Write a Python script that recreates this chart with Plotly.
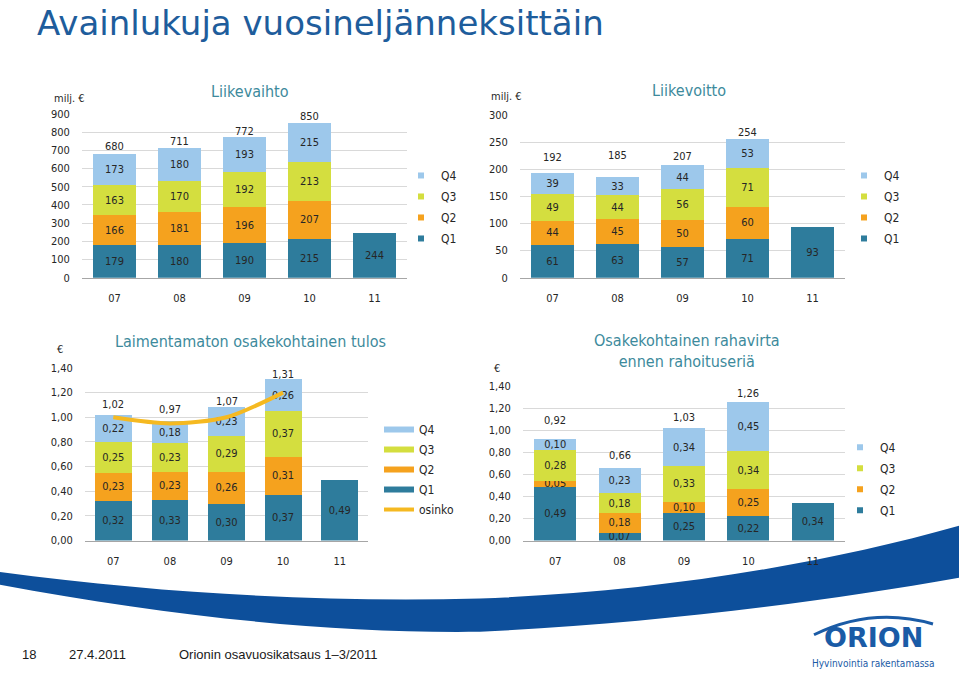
import plotly.graph_objects as go

W, H = 959, 679
def px(x): return x / W
def py(y): return 1 - y / H

years = ['07', '08', '09', '10', '11']
quarters = ['Q1', 'Q2', 'Q3', 'Q4']
colors = {'Q1': '#2E7C9C', 'Q2': '#F5A21E', 'Q3': '#D4DE3F', 'Q4': '#9DC8EB'}

# Liikevaihto (milj. €)
rev_q1 = [179, 180, 190, 215, 244]
rev_q2 = [166, 181, 196, 207, None]
rev_q3 = [163, 170, 192, 213, None]
rev_q4 = [173, 180, 193, 215, None]
rev_total = [680, 711, 772, 850]

# Liikevoitto (milj. €)
op_q1 = [61, 63, 57, 71, 93]
op_q2 = [44, 45, 50, 60, None]
op_q3 = [49, 44, 56, 71, None]
op_q4 = [39, 33, 44, 53, None]
op_total = [192, 185, 207, 254]

# Laimentamaton osakekohtainen tulos (€)
eps_q1 = [0.32, 0.33, 0.30, 0.37, 0.49]
eps_q2 = [0.23, 0.23, 0.26, 0.31, None]
eps_q3 = [0.25, 0.23, 0.29, 0.37, None]
eps_q4 = [0.22, 0.18, 0.23, 0.26, None]
eps_total = [1.02, 0.97, 1.07, 1.31]
dividend = [1.00, 0.95, 1.00, 1.20]

# Osakekohtainen rahavirta ennen rahoituseriä (€)
cf_q1 = [0.49, 0.07, 0.25, 0.22, 0.34]
cf_q2 = [0.05, 0.18, 0.10, 0.25, None]
cf_q3 = [0.28, 0.18, 0.33, 0.34, None]
cf_q4 = [0.10, 0.23, 0.34, 0.45, None]
cf_total = [0.92, 0.66, 1.03, 1.26]

FONT = 'DejaVu Sans Condensed, DejaVu Sans, sans-serif'
TXT = '#262626'
TEAL = '#3D8A9C'

fig = go.Figure()

charts = [
    dict(ax='', leg='legend', data=[rev_q1, rev_q2, rev_q3, rev_q4], fmt='%{y}', line_leg=False),
    dict(ax='2', leg='legend2', data=[op_q1, op_q2, op_q3, op_q4], fmt='%{y}', line_leg=False),
    dict(ax='3', leg='legend3', data=[eps_q1, eps_q2, eps_q3, eps_q4], fmt='%{y:.2f}', line_leg=True),
    dict(ax='4', leg='legend4', data=[cf_q1, cf_q2, cf_q3, cf_q4], fmt='%{y:.2f}', line_leg=False),
]

for ch in charts:
    xa, ya = 'x' + ch['ax'], 'y' + ch['ax']
    for q, vals in zip(quarters, ch['data']):
        fig.add_trace(go.Bar(
            x=years, y=vals, name=q, marker=dict(color=colors[q], line=dict(width=0)),
            texttemplate=ch['fmt'], textposition='inside', insidetextanchor='middle',
            textangle=0, textfont=dict(size=11, color=TXT, family=FONT),
            xaxis=xa, yaxis=ya, showlegend=False, hoverinfo='skip'))
    for q in reversed(quarters):
        if ch['line_leg']:
            fig.add_trace(go.Scatter(x=[None], y=[None], mode='lines', name=q,
                                     line=dict(color=colors[q], width=6),
                                     xaxis=xa, yaxis=ya, legend=ch['leg'], legendgroup=ch['leg'] + q))
        else:
            fig.add_trace(go.Scatter(x=[None], y=[None], mode='markers', name=q,
                                     marker=dict(symbol='square', size=6, color=colors[q]),
                                     xaxis=xa, yaxis=ya, legend=ch['leg'], legendgroup=ch['leg'] + q))

fig.add_trace(go.Scatter(x=years[:4], y=dividend, mode='lines', name='osinko',
                         line=dict(color='#F5B921', width=4, shape='spline', smoothing=0.8),
                         xaxis='x3', yaxis='y3', legend='legend3', legendgroup='osinko',
                         hoverinfo='skip'))

def add_totals(totals, xa, ya, shifts, decimals):
    for i, t in enumerate(totals):
        s = f'{t:.{decimals}f}'.replace('.', ',')
        fig.add_annotation(x=i, y=t, xref=xa, yref=ya, text=s, showarrow=False,
                           yanchor='middle', yshift=shifts[i],
                           font=dict(size=11, color=TXT, family=FONT))

add_totals(rev_total, 'x', 'y', [7, 7, 6, 6], 0)
add_totals(op_total, 'x2', 'y2', [16, 22, 9, 7], 0)
add_totals(eps_total, 'x3', 'y3', [10, 11, 7, 5], 2)
add_totals(cf_total, 'x4', 'y4', [19, 12, 10, 8], 2)

def xaxis(d0, d1, anchor):
    return dict(domain=[px(d0), px(d1)], anchor=anchor, type='category', range=[-0.5, 4.5],
                showline=True, linecolor='#A6A6A6', linewidth=1, showgrid=False,
                ticks='outside', ticklen=10, tickcolor='rgba(0,0,0,0)',
                tickfont=dict(size=11, color=TXT, family=FONT), fixedrange=True)

def yaxis(t0, t1, rng, dtick, fmt, anchor):
    return dict(domain=[py(t1), py(t0)], anchor=anchor, range=rng, dtick=dtick,
                tickformat=fmt, showgrid=True, gridcolor='#D9D9D9', gridwidth=1,
                zeroline=False, showline=False,
                ticks='outside', ticklen=9, tickcolor='rgba(0,0,0,0)',
                tickfont=dict(size=11, color=TXT, family=FONT), fixedrange=True)

fig.update_layout(
    xaxis=xaxis(82, 407, 'y'), yaxis=yaxis(110, 277, [0, 900], 100, 'd', 'x'),
    xaxis2=xaxis(520, 845, 'y2'), yaxis2=yaxis(111, 277, [0, 300], 50, 'd', 'x2'),
    xaxis3=xaxis(85, 368, 'y3'), yaxis3=yaxis(369, 545, [0, 1.4], 0.2, '.2f', 'x3'),
    xaxis4=xaxis(523, 845, 'y4'), yaxis4=yaxis(388, 545, [0, 1.4], 0.2, '.2f', 'x4'),
)

def legend(x, y, gap):
    return dict(x=px(x), y=py(y), xanchor='left', yanchor='top', bgcolor='rgba(0,0,0,0)',
                font=dict(size=12, color=TXT, family=FONT), traceorder='grouped',
                tracegroupgap=gap, itemclick=False, itemdoubleclick=False)

fig.update_layout(
    legend=legend(401, 158, 2), legend2=legend(844, 158, 2),
    legend3=legend(379, 417, 1), legend4=legend(840, 435, 2),
)

ann = [
    dict(text='Liikevaihto', x=250, y=87, size=16, color=TEAL),
    dict(text='Liikevoitto', x=689, y=86, size=16, color=TEAL),
    dict(text='Laimentamaton osakekohtainen tulos', x=250, y=342, size=16, color=TEAL),
    dict(text='Osakekohtainen rahavirta<br>ennen rahoituseriä', x=687, y=352, size=16, color=TEAL),
    dict(text='milj. €', x=69, y=94, size=11, color=TXT),
    dict(text='milj. €', x=506, y=92, size=11, color=TXT),
    dict(text='€', x=60, y=350, size=11, color=TXT),
    dict(text='€', x=497, y=370, size=11, color=TXT),
]
for a in ann:
    fig.add_annotation(text=a['text'], x=px(a['x']), y=py(a['y']), xref='paper', yref='paper',
                       showarrow=False, xanchor='center', yanchor='middle',
                       font=dict(size=a['size'], color=a['color'], family=FONT))

fig.add_annotation(text='Avainlukuja vuosineljänneksittäin', x=px(35), y=py(17), xref='paper',
                   yref='paper', showarrow=False, xanchor='left', yanchor='middle',
                   font=dict(size=34, color='#1E5D9C', family='DejaVu Sans, sans-serif'))

ARIAL = 'Liberation Sans, Arial, sans-serif'
for t, x in [('18', 20), ('27.4.2011', 67), ('Orionin osavuosikatsaus 1–3/2011', 177)]:
    fig.add_annotation(text=t, x=px(x), y=py(661), xref='paper', yref='paper', showarrow=False,
                       xanchor='left', yanchor='middle', font=dict(size=13, color='#1a1a1a', family=ARIAL))

# swoosh
sw = ('M {0},{1} C {2},{3} {4},{5} {6},{7} C {8},{9} {10},{11} {12},{13} '
      'L {14},{15} C {16},{17} {18},{19} {20},{21} C {22},{23} {24},{25} {26},{27} Z')
P = [(0, 577), (170, 600), (330, 608), (480, 604), (650, 598), (820, 570), (959, 530),
     (959, 583), (820, 608), (650, 630), (480, 638), (330, 640), (170, 622), (0, 590)]
coords = []
for x, y in P:
    coords += [round(px(x), 5), round(py(y), 5)]
fig.add_shape(type='path', path=sw.format(*coords), xref='paper', yref='paper',
              fillcolor='#0D4F9B', line=dict(width=0), layer='below')

# logo
arc = [(814, 641), (872, 612), (933, 630)]
ac = []
for x, y in arc:
    ac += [round(px(x), 5), round(py(y), 5)]
fig.add_shape(type='path', path='M {0},{1} Q {2},{3} {4},{5}'.format(*ac), xref='paper', yref='paper',
              line=dict(color='#1A5BA6', width=3))
fig.add_annotation(text='<b>ORION</b>', x=px(873), y=py(644), xref='paper', yref='paper',
                   showarrow=False, xanchor='center', yanchor='middle',
                   font=dict(size=27, color='#1A5BA6', family='DejaVu Sans, sans-serif'))
fig.add_annotation(text='Hyvinvointia rakentamassa', x=px(873), y=py(670), xref='paper', yref='paper',
                   showarrow=False, xanchor='center', yanchor='middle',
                   font=dict(size=10, color='#1A5BA6', family=FONT))

fig.update_layout(
    width=W, height=H, margin=dict(l=0, r=0, t=0, b=0), autosize=False,
    paper_bgcolor='white', plot_bgcolor='white', barmode='stack', bargap=0.35,
    separators=', ', showlegend=True,
    uniformtext=dict(minsize=11, mode='show'),
    font=dict(family=FONT, color=TXT),
)

fig.write_html('out.html', config={'displayModeBar': False},
               post_script="document.body.style.margin='0';")
